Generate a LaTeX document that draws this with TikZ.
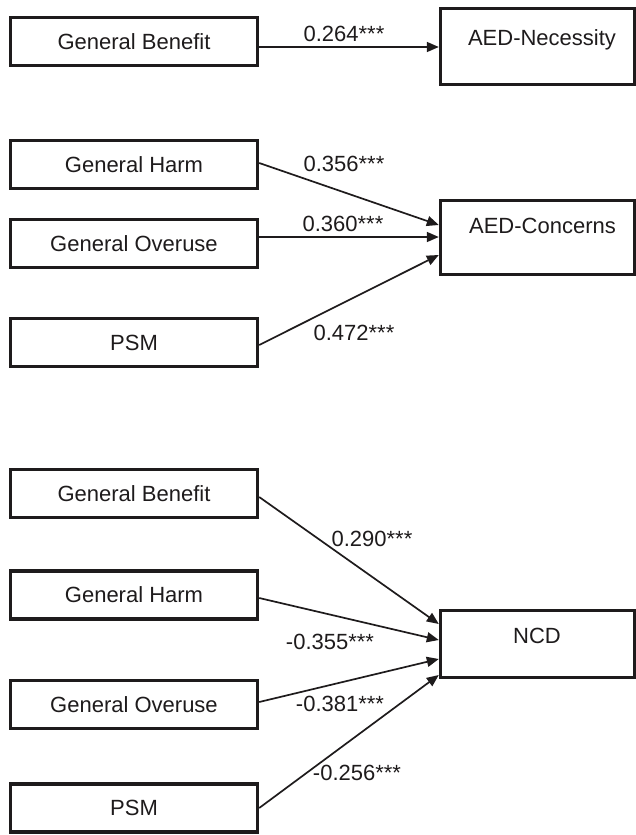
\documentclass[tikz,border=0pt]{standalone}
\usepackage{fontspec}
\setmainfont{Liberation Sans}
\usetikzlibrary{arrows.meta}
\definecolor{ink}{RGB}{30,27,28}
\begin{document}
\begin{tikzpicture}[x=1pt,y=-1pt,
  box/.style={draw=ink, line width=3.4pt, rectangle, inner sep=0pt},
  lbox/.style={box, minimum width=247pt, minimum height=48pt, text=ink, font=\fontsize{22}{26}\selectfont},
  rbox/.style={box, minimum width=194.5pt},
  txt/.style={text=ink, font=\fontsize{22}{26}\selectfont, inner sep=0pt, anchor=base},
  conn/.style={draw=ink, line width=1.7pt, -{Triangle[length=12pt,width=10pt]}}
]
\useasboundingbox (0,0) rectangle (635,835);

% top: AED-Necessity
\node[lbox] (gb1) at (134,41.5) {General Benefit};
\node[rbox, minimum height=76pt] (nec) at (537.75,46.5) {};
\node[txt] (necT) at (542,45) {AED-Necessity};

% middle: AED-Concerns
\node[lbox] (gh1) at (134,164.5) {General Harm};
\node[lbox] (go1) at (134,243.5) {General Overuse};
\node[lbox] (ps1) at (134,342.5) {PSM};
\node[rbox, minimum height=74pt] (con) at (537.75,237.5) {};
\node[txt] (conT) at (542.5,233) {AED-Concerns};

% bottom: NCD
\node[lbox] (gb2) at (134,493.5) {General Benefit};
\node[lbox] (gh2) at (134,595) {General Harm};
\node[lbox] (go2) at (134,704.5) {General Overuse};
\node[lbox] (ps2) at (134,808) {PSM};
\node[rbox, minimum height=67pt] (ncd) at (537.75,644) {};
\node[txt] (ncdT) at (537,643) {NCD};

% connectors
\draw[conn] ([yshift=-5.5pt]gb1.east) -- ([yshift=-0.5pt]nec.west);
\draw[conn] ([yshift=1.5pt]gh1.east) -- ([yshift=12.5pt]con.west);
\draw[conn] ([yshift=6.5pt]go1.east) -- ([yshift=0.5pt]con.west);
\draw[conn] ([yshift=-2.5pt]ps1.east) -- ([yshift=-17.5pt]con.west);

\draw[conn] ([yshift=-3.5pt]gb2.east) -- ([yshift=20pt]ncd.west);
\draw[conn] ([yshift=-3pt]gh2.east) -- ([yshift=4pt]ncd.west);
\draw[conn] ([yshift=2.5pt]go2.east) -- ([yshift=-15pt]ncd.west);
\draw[conn] (ps2.east) -- ([yshift=-31pt]ncd.west);

% labels
\node[txt] (l1) at (344,41) {0.264***};
\node[txt] (l2) at (344,171) {0.356***};
\node[txt] (l3) at (343,231) {0.360***};
\node[txt] (l4) at (354,340) {0.472***};
\node[txt] (l5) at (372,546) {0.290***};
\node[txt] (l6) at (330,649) {-0.355***};
\node[txt] (l7) at (340,711) {-0.381***};
\node[txt] (l8) at (357,780) {-0.256***};
\end{tikzpicture}
\end{document}
